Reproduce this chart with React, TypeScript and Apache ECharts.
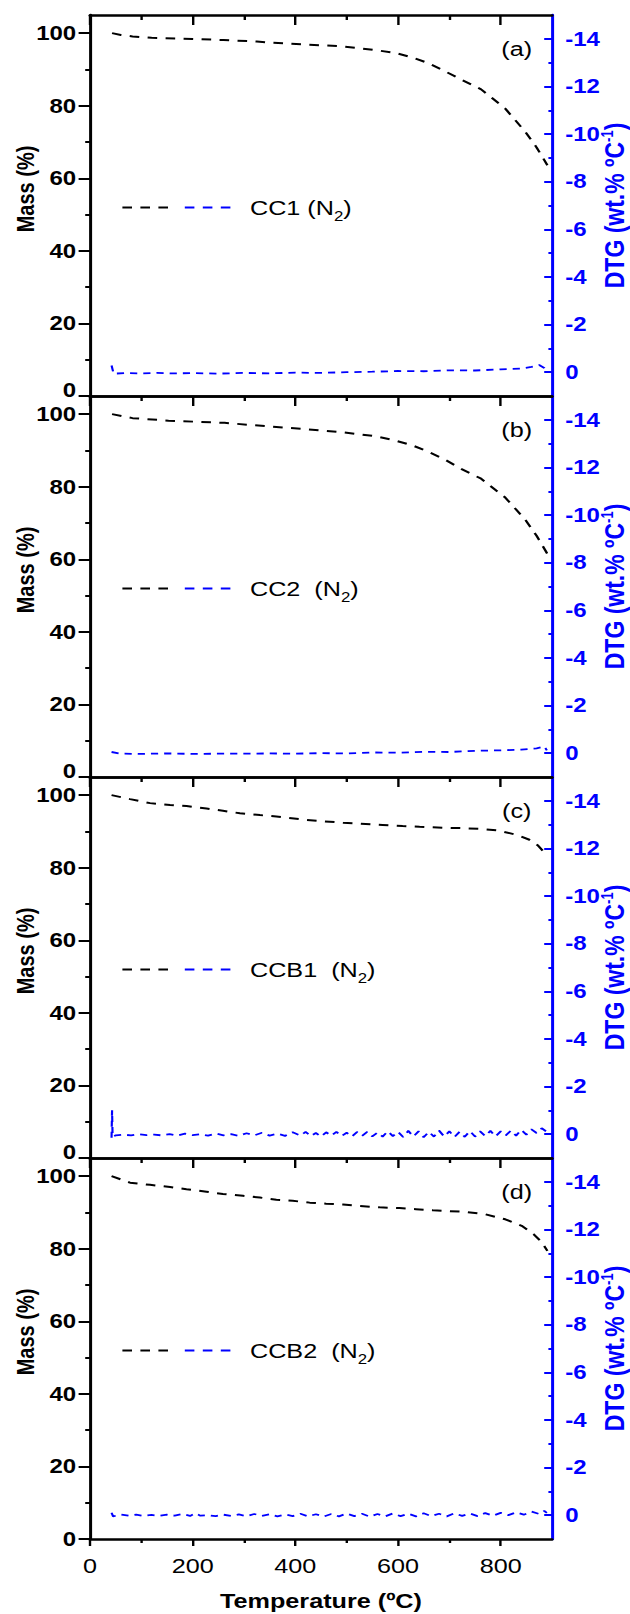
import React, { useEffect, useRef } from "react";
import * as echarts from "echarts";

// ---------- data ----------
const panelLabels = ["(a)", "(b)", "(c)", "(d)"];
const sampleLabels = ["CC1 (N{s|2})", "CC2  (N{s|2})", "CCB1  (N{s|2})", "CCB2  (N{s|2})"];

const tempTicks = [0, 200, 400, 600, 800];
const tempMinorTicks = [100, 300, 500, 700];
const massTicks = [0, 20, 40, 60, 80, 100];
const massMinorTicks = [10, 30, 50, 70, 90];
const dtgTicks = [-14, -12, -10, -8, -6, -4, -2, 0];
const dtgMinorTicks = [-13, -11, -9, -7, -5, -3, -1];

// Mass (%) vs temperature (ºC)
const massCC1 = [
  [43, 100], [60, 99.5], [83, 99.1], [120, 98.7], [200, 98.4], [260, 98.1], [325, 97.7],
  [350, 97.4], [415, 96.9], [486, 96.4], [522, 95.9], [557, 95.3], [593, 94.6], [628, 93.3],
  [658, 91.8], [690, 89.6], [726, 87.0], [762, 84.5], [809, 79.2], [848, 72.8], [870, 68.5],
  [891, 63.6],
];
const massCC2 = [
  [43, 100], [83, 98.9], [153, 98.2], [262, 97.6], [350, 96.6], [415, 95.9], [486, 95.1],
  [522, 94.5], [557, 93.9], [593, 92.8], [628, 91.4], [658, 89.7], [690, 87.6], [723, 84.9],
  [762, 82.2], [809, 77.0], [848, 70.9], [870, 66.5], [891, 61.5],
];
const massCCB1 = [
  [42, 100], [78, 98.9], [117, 97.8], [156, 97.3], [188, 97.0], [227, 96.3], [259, 95.7],
  [292, 95.0], [331, 94.5], [363, 94.1], [421, 93.2], [454, 92.8], [493, 92.4], [519, 92.2],
  [570, 91.8], [609, 91.5], [642, 91.3], [693, 91.0], [726, 90.9], [760, 90.7], [794, 90.3],
  [833, 89.0], [856, 87.7], [872, 86.2], [880, 85.0], [888, 83.6],
];
const massCCB2 = [
  [42, 100], [78, 98.2], [117, 97.6], [156, 97.0], [188, 96.4], [227, 95.7], [259, 95.1],
  [298, 94.6], [331, 94.1], [363, 93.5], [395, 93.2], [428, 92.7], [460, 92.4], [493, 92.2],
  [525, 91.8], [564, 91.4], [603, 91.2], [635, 90.9], [668, 90.6], [693, 90.4], [726, 90.2],
  [770, 89.5], [809, 88.1], [841, 86.3], [864, 84.0], [880, 81.8], [891, 79.4],
];

// DTG (wt.% ºC-1) vs temperature (ºC)
const dtgCC1 = [
  [42, -0.28], [46, 0.06], [70, 0.04], [100, 0.05], [130, 0.03], [160, 0.05], [200, 0.04],
  [250, 0.06], [300, 0.03], [350, 0.05], [400, 0.02], [450, 0.03], [500, 0.0], [550, -0.02],
  [600, -0.05], [650, -0.04], [700, -0.08], [750, -0.07], [800, -0.12], [840, -0.15],
  [860, -0.22], [875, -0.3], [885, -0.18], [890, -0.08],
];
const dtgCC2 = [
  [42, -0.05], [60, 0.02], [100, 0.03], [150, 0.01], [200, 0.03], [250, 0.02], [300, 0.02],
  [350, 0.01], [400, 0.02], [450, 0.0], [500, 0.01], [550, -0.03], [600, -0.02], [650, -0.06],
  [700, -0.05], [750, -0.1], [800, -0.12], [840, -0.15], [870, -0.2], [885, -0.28], [890, -0.12],
];
const dtgCCB1 = [
  [42, 0.15], [43, -1.0], [44, 0.1], [50, 0.05], [65, 0.02], [80, 0.05], [95, 0.0], [110, 0.04],
  [125, 0.02], [140, 0.05], [155, 0.0], [170, 0.06], [185, -0.02], [200, 0.04], [215, 0.0],
  [230, 0.06], [245, -0.03], [260, 0.05], [275, 0.0], [290, 0.07], [305, -0.04], [320, 0.05],
  [335, -0.06], [350, 0.06], [365, -0.02], [380, 0.07], [395, -0.08], [410, 0.06], [420, -0.1],
  [430, 0.08], [440, -0.05], [450, 0.1], [460, -0.08], [470, 0.06], [480, -0.1], [490, 0.08],
  [500, -0.06], [510, 0.1], [520, -0.09], [530, 0.07], [540, -0.1], [550, 0.09], [560, -0.07],
  [570, 0.1], [580, -0.12], [590, 0.08], [600, -0.1], [610, 0.12], [620, -0.14], [630, 0.1],
  [640, -0.12], [650, 0.13], [660, -0.1], [670, 0.1], [680, -0.15], [690, 0.1], [700, -0.12],
  [710, 0.12], [720, -0.1], [730, 0.11], [740, -0.13], [750, 0.1], [760, -0.12], [770, 0.08],
  [780, -0.14], [790, 0.09], [800, -0.12], [810, 0.05], [820, -0.15], [830, 0.06], [840, -0.18],
  [850, 0.02], [860, -0.2], [870, -0.05], [880, -0.25], [890, -0.1],
];
const dtgCCB2 = [
  [42, -0.1], [45, 0.05], [60, -0.03], [75, 0.02], [90, -0.02], [105, 0.03], [120, -0.01],
  [135, 0.03], [150, -0.02], [165, 0.02], [180, -0.05], [195, 0.03], [205, -0.08], [215, 0.02],
  [230, 0.0], [245, 0.04], [260, -0.02], [275, 0.03], [290, -0.03], [305, 0.04], [320, -0.05],
  [335, 0.03], [350, -0.04], [365, 0.05], [380, -0.03], [395, 0.04], [410, -0.06], [425, 0.05],
  [440, -0.04], [455, 0.06], [470, -0.05], [485, 0.05], [500, -0.07], [515, 0.04], [530, -0.06],
  [545, 0.06], [560, -0.05], [575, 0.05], [590, -0.07], [605, 0.04], [620, -0.06], [635, 0.05],
  [650, -0.08], [665, 0.04], [680, -0.06], [695, 0.05], [710, -0.08], [725, 0.03], [740, -0.07],
  [755, 0.04], [770, -0.09], [785, 0.02], [800, -0.1], [815, 0.0], [830, -0.12], [845, -0.02],
  [860, -0.15], [875, -0.05], [885, -0.18], [890, -0.1],
];

const massSeries = [massCC1, massCC2, massCCB1, massCCB2];
const dtgSeries = [dtgCC1, dtgCC2, dtgCCB1, dtgCCB2];

// ---------- layout ----------
const STRETCH = 1.2; // the reference figure is horizontally stretched
const BASE_W = 630 / STRETCH;
const H = 1614;
const GRID_LEFT = 75;
const GRID_W = 385;
const GRID_TOPS = [15, 396, 777, 1158];
const GRID_H = 381;
const FONT = "'Liberation Sans', Arial, Helvetica, sans-serif";
const BLUE = "#0000ff";

function buildOption() {
  const grid: any[] = [];
  const xAxis: any[] = [];
  const yAxis: any[] = [];
  const series: any[] = [];
  const graphic: any[] = [];

  GRID_TOPS.forEach((top, i) => {
    const last = i === GRID_TOPS.length - 1;
    grid.push({ left: GRID_LEFT, top, width: GRID_W, height: GRID_H });

    const xb = { type: "value", gridIndex: i, min: 0, max: 900, splitLine: { show: false } };
    const blackLine = { show: true, onZero: false, lineStyle: { color: "#000", width: 2.5 } };
    // bottom major
    xAxis.push({
      ...xb, position: "bottom", axisLine: blackLine,
      axisTick: { show: last, customValues: tempTicks, length: 7, lineStyle: { color: "#000", width: 2 } },
      axisLabel: { show: last, customValues: tempTicks, fontSize: 21, lineHeight: 18, color: "#000", fontFamily: FONT, margin: 18 },
    });
    // bottom minor
    xAxis.push({
      ...xb, position: "bottom", axisLine: { show: false, onZero: false },
      axisTick: { show: last, customValues: tempMinorTicks, length: 4, lineStyle: { color: "#000", width: 2 } },
      axisLabel: { show: false },
    });
    // top major
    xAxis.push({
      ...xb, position: "top", axisLine: blackLine,
      axisTick: { show: true, inside: true, customValues: tempTicks, length: 10, lineStyle: { color: "#000", width: 2 } },
      axisLabel: { show: false },
    });
    // top minor
    xAxis.push({
      ...xb, position: "top", axisLine: { show: false, onZero: false },
      axisTick: { show: true, inside: true, customValues: tempMinorTicks, length: 5, lineStyle: { color: "#000", width: 2 } },
      axisLabel: { show: false },
    });

    const yb = { type: "value", gridIndex: i, splitLine: { show: false } };
    // mass major
    yAxis.push({
      ...yb, min: 0, max: 105, position: "left", axisLine: blackLine,
      axisTick: { show: true, customValues: massTicks, length: 9.5, lineStyle: { color: "#000", width: 2 } },
      axisLabel: {
        customValues: massTicks, fontSize: 20, lineHeight: 16, fontWeight: "bold", color: "#000",
        fontFamily: FONT, margin: 11.5,
        formatter: (v: number) => (v === 0 && !last ? "{z|0}" : String(v)),
        rich: { z: { fontSize: 20, fontWeight: "bold", color: "#000", fontFamily: FONT, padding: [0, 0, 12, 0] } },
      },
    });
    // mass minor
    yAxis.push({
      ...yb, min: 0, max: 105, position: "left", axisLine: { show: false, onZero: false },
      axisTick: { show: true, customValues: massMinorTicks, length: 4, lineStyle: { color: "#000", width: 2 } },
      axisLabel: { show: false },
    });
    // dtg major
    yAxis.push({
      ...yb, min: -15, max: 1, inverse: true, position: "right",
      axisLine: { show: true, onZero: false, lineStyle: { color: BLUE, width: 2.5 } },
      axisTick: { show: true, inside: true, customValues: dtgTicks, length: 6.5, lineStyle: { color: BLUE, width: 2 } },
      axisLabel: { customValues: dtgTicks, fontSize: 20, lineHeight: 16, fontWeight: "bold", color: BLUE, fontFamily: FONT, margin: 11 },
    });
    // dtg minor
    yAxis.push({
      ...yb, min: -15, max: 1, inverse: true, position: "right", axisLine: { show: false, onZero: false },
      axisTick: { show: true, inside: true, customValues: dtgMinorTicks, length: 3, lineStyle: { color: BLUE, width: 2 } },
      axisLabel: { show: false },
    });

    series.push({
      type: "line", xAxisIndex: 4 * i, yAxisIndex: 4 * i, data: massSeries[i],
      symbol: "none", silent: true, z: 3,
      lineStyle: { color: "#000", width: 2, type: [8, 7] },
    });
    series.push({
      type: "line", xAxisIndex: 4 * i, yAxisIndex: 4 * i + 2, data: dtgSeries[i],
      symbol: "none", silent: true, z: 3,
      lineStyle: { color: BLUE, width: 1.8, type: [6, 5] },
    });

    // panel tag
    graphic.push({
      type: "text", x: 430.6, y: top + 34,
      style: { text: panelLabels[i], fill: "#000", fontSize: 21, fontFamily: FONT, align: "center", verticalAlign: "middle" },
    });
    // legend
    const ly = top + 192.6;
    graphic.push({
      type: "line", shape: { x1: 102, y1: ly, x2: 142, y2: ly },
      style: { stroke: "#000", lineWidth: 2, lineDash: [8, 7] },
    });
    graphic.push({
      type: "line", shape: { x1: 154, y1: ly, x2: 194, y2: ly },
      style: { stroke: BLUE, lineWidth: 2, lineDash: [8, 7] },
    });
    graphic.push({
      type: "text", x: 208.3, y: ly,
      style: {
        text: sampleLabels[i], fill: "#000", fontSize: 21, fontFamily: FONT,
        align: "left", verticalAlign: "middle",
        rich: { s: { fontSize: 14, fill: "#000", fontFamily: FONT, padding: [16, 0, 0, 0] } },
      },
    });
    // y axis titles
    graphic.push({
      type: "text", x: 21.7, y: top + 174, rotation: Math.PI / 2,
      style: { text: "Mass (%)", fill: "#000", fontSize: 20, fontWeight: "bold", fontFamily: FONT, align: "center", verticalAlign: "middle" },
    });
    graphic.push({
      type: "text", x: 512, y: top + 190.5, rotation: Math.PI / 2,
      style: {
        text: "DTG (wt.% ºC{p|-1})", fill: BLUE, fontSize: 23, fontWeight: "bold", fontFamily: FONT,
        align: "center", verticalAlign: "middle",
        rich: { p: { fontSize: 13, fontWeight: "bold", fill: BLUE, fontFamily: FONT, padding: [0, 0, 11, 0] } },
      },
    });
  });

  graphic.push({
    type: "text", x: GRID_LEFT + GRID_W / 2, y: 1601,
    style: { text: "Temperature (ºC)", fill: "#000", fontSize: 21, fontWeight: "bold", fontFamily: FONT, align: "center", verticalAlign: "middle" },
  });

  return {
    animation: false,
    backgroundColor: "#ffffff",
    textStyle: { fontFamily: FONT },
    grid, xAxis, yAxis, series, graphic,
  };
}

export default function App() {
  const ref = useRef<HTMLDivElement>(null);
  useEffect(() => {
    document.body.style.margin = "0";
    if (!ref.current) return;
    const chart = echarts.init(ref.current, undefined, { renderer: "svg" });
    chart.setOption(buildOption() as any);
    return () => chart.dispose();
  }, []);
  return (
    <div style={{ position: "absolute", left: 0, top: 0, width: 630, height: H, overflow: "hidden", background: "#fff" }}>
      <div
        ref={ref}
        style={{ width: BASE_W, height: H, transform: `scaleX(${STRETCH})`, transformOrigin: "0 0" }}
      />
    </div>
  );
}
